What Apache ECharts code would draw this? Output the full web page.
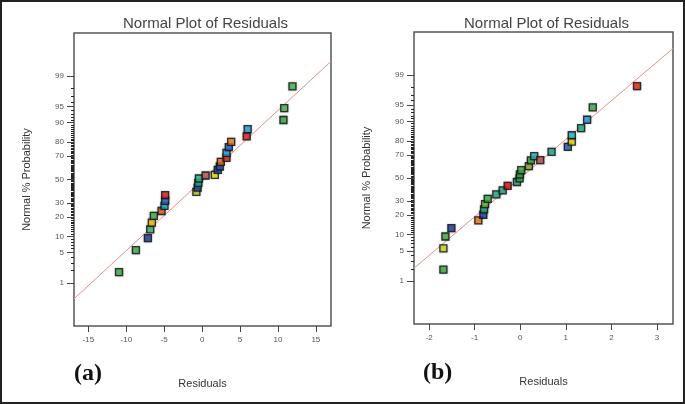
<!DOCTYPE html>
<html>
<head>
<meta charset="utf-8">
<script src="https://cdn.jsdelivr.net/npm/echarts@6/dist/echarts.min.js"></script>
<style>
  html, body { margin: 0; padding: 0; background: #fff; }
  #main { width: 685px; height: 404px; }
</style>
</head>
<body>
<div id="main"></div>
<script>
// panel (a) residuals and normal % probability
const residA = [-10.96, -8.73, -7.15, -6.85, -6.63, -6.37, -5.35, -4.96, -4.88, -4.88,
  -0.76, -0.59, -0.50, -0.42, 0.46, 1.68, 2.07, 2.34, 2.47, 3.22,
  3.22, 3.52, 3.83, 5.88, 6.01, 10.73, 10.83, 11.92];
const probA = [1.85, 5.6, 9.3, 13.1, 16.6, 20.6, 23.9, 27.6, 31.5, 36.2,
  39.0, 42.8, 46.9, 50.9, 53.6, 54.1, 58.6, 61.5, 65.4, 68.7,
  72.6, 76.7, 80.2, 83.4, 87.2, 91.0, 94.6, 98.2];
const colorsA = ['#3cb44b', '#3cb44b', '#1f3f9f', '#3cb878', '#f5c000', '#3cb44b', '#ea5a1a', '#1fb5d5', '#2a6ad0', '#e02020',
  '#c8d020', '#2050b0', '#20c0a0', '#30c090', '#c05a5a', '#f0e010', '#2050c0', '#2a5fc0', '#f07020', '#e52020',
  '#20b0e0', '#2a60c8', '#f08020', '#e52020', '#20a8e0', '#3cb040', '#50b850', '#40c050'];
// fitted line end points (a)
const fitResA = [-16.9, 17];
const fitProbA = [0.357, 99.61];

// panel (b)
const residB = [-1.685, -1.685, -1.641, -1.510, -0.919, -0.810, -0.794, -0.772, -0.713, -0.525,
  -0.385, -0.276, -0.072, -0.013, -0.007, 0.022, 0.190, 0.234, 0.306, 0.438,
  0.687, 1.044, 1.131, 1.131, 1.335, 1.466, 1.591, 2.561];
const probB = [1.91, 5.57, 9.3, 12.9, 16.9, 20.3, 23.9, 27.7, 31.9, 35.6,
  39.0, 42.9, 46.4, 49.6, 53.2, 57.1, 60.6, 65.4, 68.9, 65.7,
  72.2, 75.9, 79.4, 83.3, 87.0, 90.6, 94.5, 98.1];
const colorsB = ['#3cb44b', '#d0e020', '#3cb44b', '#1a40a0', '#f08010', '#2040b0', '#20b090', '#60c040', '#3cb44b', '#20b090',
  '#20b090', '#f01010', '#20b090', '#3cb44b', '#3cb44b', '#3cb44b', '#80b030', '#3cb44b', '#30b8b8', '#c05050',
  '#20b090', '#2060c0', '#f0e000', '#20c0d0', '#20b090', '#20a0e0', '#3cb44b', '#e83010'];
const fitResB = [-2.33, 3.35];
const fitProbB = [2.07, 99.83];

const xTicksA = [-15, -10, -5, 0, 5, 10, 15];
const xTicksB = [-2, -1, 0, 1, 2, 3];
const probLabels = [1, 5, 10, 20, 30, 50, 70, 80, 90, 95, 99];
const probMinor = Array.from({length: 99}, (_, i) => i + 1);

// inverse normal cdf (Acklam)
function probit(p) {
  const a = [-3.969683028665376e+01, 2.209460984245205e+02, -2.759285104469687e+02, 1.383577518672690e+02, -3.066479806614716e+01, 2.506628277459239e+00];
  const b = [-5.447609879822406e+01, 1.615858368580409e+02, -1.556989798598866e+02, 6.680131188771972e+01, -1.328068155288572e+01];
  const c = [-7.784894002430293e-03, -3.223964580411365e-01, -2.400758277161838e+00, -2.549671348088002e+00, 4.374664141464968e+00, 2.938163982698783e+00];
  const d = [7.784695709041462e-03, 3.224671290700398e-01, 2.445134137142996e+00, 3.754408661907416e+00];
  const pl = 0.02425;
  let q, r;
  if (p < pl) {
    q = Math.sqrt(-2 * Math.log(p));
    return (((((c[0]*q+c[1])*q+c[2])*q+c[3])*q+c[4])*q+c[5]) / ((((d[0]*q+d[1])*q+d[2])*q+d[3])*q+1);
  }
  if (p <= 1 - pl) {
    q = p - 0.5; r = q * q;
    return (((((a[0]*r+a[1])*r+a[2])*r+a[3])*r+a[4])*r+a[5])*q / (((((b[0]*r+b[1])*r+b[2])*r+b[3])*r+b[4])*r+1);
  }
  q = Math.sqrt(-2 * Math.log(1 - p));
  return -(((((c[0]*q+c[1])*q+c[2])*q+c[3])*q+c[4])*q+c[5]) / ((((d[0]*q+d[1])*q+d[2])*q+d[3])*q+1);
}

const FONT = 'Liberation Sans';
const zMin = -3.3, zMax = 3.3;

function labelFor(z) {
  const hit = probLabels.find(l => Math.abs(probit(l / 100) - z) < 1e-6);
  return hit === undefined ? '' : String(hit);
}

let grids = [], xAxes = [], yAxes = [], series = [], titles = [];

function addPanel(i, box, xMin, xMax, xTicks, resid, prob, colors, fitRes, fitProb) {
  grids.push({left: box.left, top: box.top, width: box.width, height: box.height,
    show: true, borderColor: '#555', borderWidth: 1.5, backgroundColor: '#fff'});
  xAxes.push({
    type: 'value', gridIndex: i, min: xMin, max: xMax, position: 'bottom',
    name: 'Residuals', nameLocation: 'middle', nameGap: 52,
    nameTextStyle: {fontFamily: FONT, fontSize: 11, color: '#333'},
    splitLine: {show: false},
    axisLine: {show: false, onZero: false},
    axisTick: {show: true, length: 6, customValues: xTicks, lineStyle: {color: '#444'}},
    axisLabel: {customValues: xTicks, fontFamily: FONT, fontSize: 8, color: '#555', margin: 10}
  });
  // minor probability ticks
  yAxes.push({
    type: 'value', gridIndex: i, min: zMin, max: zMax, position: 'left',
    splitLine: {show: false}, axisLine: {show: false, onZero: false},
    axisTick: {show: true, length: 3, customValues: probMinor.map(p => probit(p / 100)), lineStyle: {color: '#222'}},
    axisLabel: {show: false}
  });
  // labelled probability ticks
  yAxes.push({
    type: 'value', gridIndex: i, min: zMin, max: zMax, position: 'left',
    name: 'Normal % Probability', nameLocation: 'middle', nameGap: 42, nameRotate: 90,
    nameTextStyle: {fontFamily: FONT, fontSize: 11, color: '#333'},
    splitLine: {show: false}, axisLine: {show: false, onZero: false},
    axisTick: {show: true, length: 7, customValues: probLabels.map(p => probit(p / 100)), lineStyle: {color: '#444'}},
    axisLabel: {customValues: probLabels.map(p => probit(p / 100)), formatter: labelFor,
      fontFamily: FONT, fontSize: 8, color: '#555', margin: 10}
  });
  series.push({
    type: 'line', xAxisIndex: i, yAxisIndex: 2 * i + 1, symbol: 'none', silent: true, z: 2,
    lineStyle: {color: '#f08c8c', width: 1},
    data: fitRes.map((r, k) => [r, probit(fitProb[k] / 100)])
  });
  series.push({
    type: 'scatter', xAxisIndex: i, yAxisIndex: 2 * i + 1, symbol: 'rect', symbolSize: 7, z: 3,
    data: resid.map((r, k) => ({value: [r, probit(prob[k] / 100)],
      itemStyle: {color: colors[k], borderColor: '#111', borderWidth: 1.3, shadowColor: 'rgba(0,0,0,0.35)', shadowBlur: 2}}))
  });
  titles.push({text: 'Normal Plot of Residuals', left: box.left + box.width / 2 - 2, top: 11, textAlign: 'center',
    textStyle: {fontFamily: FONT, fontSize: 15, fontWeight: 'normal', color: '#444'}});
}

addPanel(0, {left: 74, top: 33, width: 257, height: 293}, -16.9, 17, xTicksA, residA, probA, colorsA, fitResA, fitProbA);
addPanel(1, {left: 414, top: 32, width: 259, height: 292}, -2.33, 3.35, xTicksB, residB, probB, colorsB, fitResB, fitProbB);

const chart = echarts.init(document.getElementById('main'), null, {renderer: 'canvas'});
chart.setOption({
  animation: false,
  backgroundColor: '#fff',
  title: titles,
  grid: grids,
  xAxis: xAxes,
  yAxis: yAxes,
  series: series,
  graphic: [
    {type: 'rect', shape: {x: 1, y: 1, width: 683, height: 402}, style: {fill: 'none', stroke: '#222', lineWidth: 2}},
    {type: 'text', left: 74, top: 362, style: {text: '(a)', font: 'bold 24px "Liberation Serif"', fill: '#111'}},
    {type: 'text', left: 423, top: 361, style: {text: '(b)', font: 'bold 24px "Liberation Serif"', fill: '#111'}}
  ]
});
</script>
</body>
</html>
